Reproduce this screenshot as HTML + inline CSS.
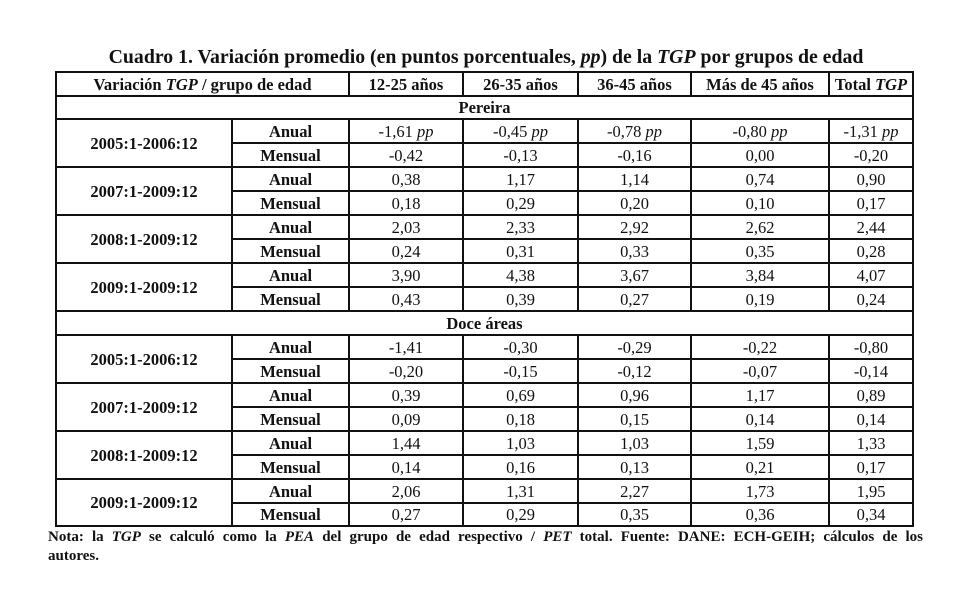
<!DOCTYPE html>
<html><head><meta charset="utf-8"><style>
body{margin:0;width:977px;height:594px;background:#fff;position:relative;font-family:"Liberation Serif",serif;color:#111;overflow:hidden}
.t{position:absolute;left:0;width:972px;top:46px;text-align:center;font-weight:bold;font-size:19.8px}
table{position:absolute;left:55px;top:71px;border-collapse:collapse;table-layout:fixed;font-size:16.5px}
td{border:2px solid #111;text-align:center;padding:1px 0 0 0;height:19px;line-height:18px}
.b{font-weight:bold}
.n{position:absolute;left:48px;width:875px;top:528px;font-weight:bold;font-size:15px;text-align:justify;text-align-last:left;line-height:19px;word-spacing:3px}
</style></head><body>
<div class="t">Cuadro 1. Variación promedio (en puntos porcentuales, <i>pp</i>) de la <i>TGP</i> por grupos de edad</div>
<table>
<colgroup><col style="width:176px"><col style="width:117px"><col style="width:114px"><col style="width:115px"><col style="width:113px"><col style="width:138px"><col style="width:84px"></colgroup>
<tr style="height:24px" class="b"><td colspan="2">Variación <i>TGP</i> / grupo de edad</td><td>12-25 años</td><td>26-35 años</td><td>36-45 años</td><td>Más de 45 años</td><td>Total <i>TGP</i></td></tr>
<tr style="height:23px"><td colspan="7" class="b">Pereira</td></tr>
<tr style="height:24px"><td rowspan="2" class="b">2005:1-2006:12</td><td class="b">Anual</td><td>-1,61 <i>pp</i></td><td>-0,45 <i>pp</i></td><td>-0,78 <i>pp</i></td><td>-0,80 <i>pp</i></td><td>-1,31 <i>pp</i></td></tr>
<tr style="height:24px"><td class="b">Mensual</td><td>-0,42</td><td>-0,13</td><td>-0,16</td><td>0,00</td><td>-0,20</td></tr>
<tr style="height:24px"><td rowspan="2" class="b">2007:1-2009:12</td><td class="b">Anual</td><td>0,38</td><td>1,17</td><td>1,14</td><td>0,74</td><td>0,90</td></tr>
<tr style="height:24px"><td class="b">Mensual</td><td>0,18</td><td>0,29</td><td>0,20</td><td>0,10</td><td>0,17</td></tr>
<tr style="height:24px"><td rowspan="2" class="b">2008:1-2009:12</td><td class="b">Anual</td><td>2,03</td><td>2,33</td><td>2,92</td><td>2,62</td><td>2,44</td></tr>
<tr style="height:24px"><td class="b">Mensual</td><td>0,24</td><td>0,31</td><td>0,33</td><td>0,35</td><td>0,28</td></tr>
<tr style="height:24px"><td rowspan="2" class="b">2009:1-2009:12</td><td class="b">Anual</td><td>3,90</td><td>4,38</td><td>3,67</td><td>3,84</td><td>4,07</td></tr>
<tr style="height:24px"><td class="b">Mensual</td><td>0,43</td><td>0,39</td><td>0,27</td><td>0,19</td><td>0,24</td></tr>
<tr style="height:24px"><td colspan="7" class="b">Doce áreas</td></tr>
<tr style="height:24px"><td rowspan="2" class="b">2005:1-2006:12</td><td class="b">Anual</td><td>-1,41</td><td>-0,30</td><td>-0,29</td><td>-0,22</td><td>-0,80</td></tr>
<tr style="height:24px"><td class="b">Mensual</td><td>-0,20</td><td>-0,15</td><td>-0,12</td><td>-0,07</td><td>-0,14</td></tr>
<tr style="height:24px"><td rowspan="2" class="b">2007:1-2009:12</td><td class="b">Anual</td><td>0,39</td><td>0,69</td><td>0,96</td><td>1,17</td><td>0,89</td></tr>
<tr style="height:24px"><td class="b">Mensual</td><td>0,09</td><td>0,18</td><td>0,15</td><td>0,14</td><td>0,14</td></tr>
<tr style="height:24px"><td rowspan="2" class="b">2008:1-2009:12</td><td class="b">Anual</td><td>1,44</td><td>1,03</td><td>1,03</td><td>1,59</td><td>1,33</td></tr>
<tr style="height:24px"><td class="b">Mensual</td><td>0,14</td><td>0,16</td><td>0,13</td><td>0,21</td><td>0,17</td></tr>
<tr style="height:24px"><td rowspan="2" class="b">2009:1-2009:12</td><td class="b">Anual</td><td>2,06</td><td>1,31</td><td>2,27</td><td>1,73</td><td>1,95</td></tr>
<tr style="height:23px"><td class="b">Mensual</td><td>0,27</td><td>0,29</td><td>0,35</td><td>0,36</td><td>0,34</td></tr>
</table>
<div class="n">Nota: la <i>TGP</i> se calculó como la <i>PEA</i> del grupo de edad respectivo / <i>PET</i> total. Fuente: DANE: ECH-GEIH; cálculos de los autores.</div>
</body></html>
